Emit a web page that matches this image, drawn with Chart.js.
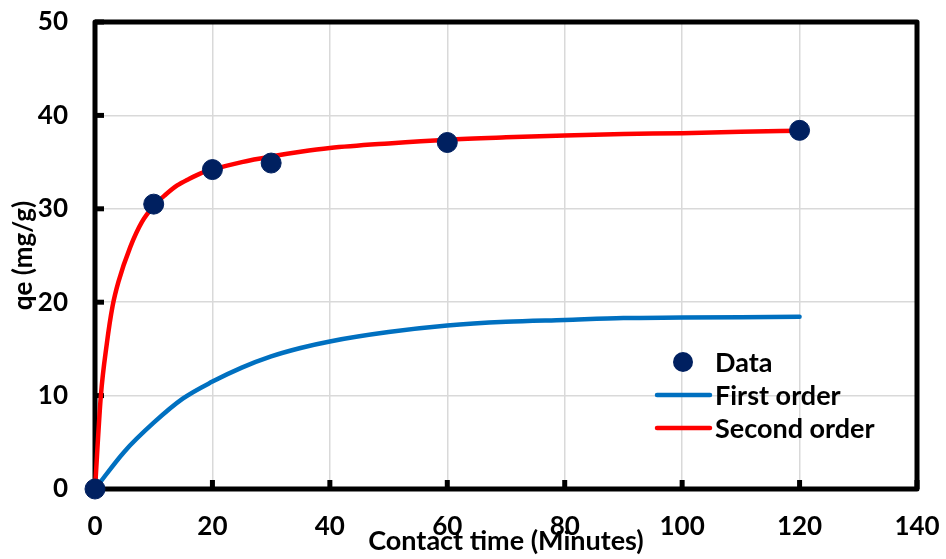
<!DOCTYPE html>
<html>
<head>
<meta charset="utf-8">
<script src="https://cdn.jsdelivr.net/npm/chart.js@4.4.1/dist/chart.umd.min.js"></script>
<style>
  html, body { margin: 0; padding: 0; background: #ffffff; }
  #wrap { width: 946px; height: 559px; }
</style>
</head>
<body>
<div id="wrap"><canvas id="c" width="946" height="559"></canvas></div>
<script>
// ---- data ----
const dataTime = [0, 10, 20, 30, 60, 120];
const dataQe = [0, 30.5, 34.2, 34.9, 37.1, 38.4];

const firstOrderTime = [0, 5, 10, 15, 20, 25, 30, 35, 40, 50, 60, 70, 80, 90, 100, 110, 120];
const firstOrderQe = [0, 4.0, 7.1, 9.7, 11.5, 13.0, 14.2, 15.1, 15.8, 16.8, 17.5, 17.9, 18.1, 18.3, 18.35, 18.4, 18.45];

const secondOrderTime = [0, 1, 2, 3, 4, 6, 8, 10, 12, 14, 16, 18, 20, 25, 30, 35, 40, 50, 60, 70, 80, 90, 100, 110, 120];
const secondOrderQe = [0, 10.0, 15.5, 19.6, 22.2, 25.9, 28.6, 30.3, 31.5, 32.5, 33.2, 33.8, 34.2, 35.0, 35.6, 36.1, 36.5, 37.0, 37.4, 37.65, 37.85, 38.0, 38.1, 38.25, 38.35];

const xTicks = [0, 20, 40, 60, 80, 100, 120, 140];
const yTicks = [0, 10, 20, 30, 40, 50];

const seriesNames = ['Data', 'First order', 'Second order'];
const xTitle = 'Contact time (Minutes)';
const yTitle = 'qe (mg/g)';

// ---- chart ----
const FONT = 'Lato';
Chart.defaults.font.family = FONT;
Chart.defaults.font.weight = 'bold';
Chart.defaults.font.size = 26;
Chart.defaults.color = '#000000';

const toPts = (xs, ys) => xs.map((x, i) => ({ x: x, y: ys[i] }));

// target plot rectangle
const AREA = { left: 95, top: 22, right: 917, bottom: 489 };

const fixArea = {
  id: 'fixArea',
  afterLayout(chart) {
    const a = chart.chartArea;
    a.left = AREA.left; a.top = AREA.top; a.right = AREA.right; a.bottom = AREA.bottom;
    a.width = a.right - a.left; a.height = a.bottom - a.top;
    const x = chart.scales.x, y = chart.scales.y;
    x.left = a.left; x.right = a.right; x.width = a.width; x.top = a.bottom; x.bottom = 559;
    x.height = x.bottom - x.top;
    y.top = a.top; y.bottom = a.bottom; y.height = a.height; y.left = 0; y.right = a.left;
    y.width = a.left;
    x.configure(); y.configure();
  }
};

const frame = {
  id: 'frame',
  beforeDatasetsDraw(chart) {
    const { ctx, chartArea: a, scales } = chart;
    ctx.save();
    ctx.strokeStyle = '#000000';
    ctx.lineWidth = 5;
    ctx.lineJoin = 'round';
    ctx.strokeRect(a.left, a.top, a.right - a.left, a.bottom - a.top);
    ctx.lineCap = 'butt';
    yTicks.forEach(v => {
      const y = scales.y.getPixelForValue(v);
      ctx.beginPath(); ctx.moveTo(a.left, y); ctx.lineTo(a.left + 9, y); ctx.stroke();
    });
    xTicks.forEach(v => {
      const x = scales.x.getPixelForValue(v);
      ctx.beginPath(); ctx.moveTo(x, a.bottom); ctx.lineTo(x, a.bottom - 9); ctx.stroke();
    });
    ctx.restore();
  }
};

const legendInside = {
  id: 'legendInside',
  afterDatasetsDraw(chart) {
    const { ctx } = chart;
    const ds = chart.data.datasets;
    const textX = 715;
    const rows = [362, 395, 428];
    ctx.save();
    ctx.font = 'bold 27px ' + FONT;
    ctx.textBaseline = 'middle';
    ctx.textAlign = 'left';
    ctx.beginPath();
    ctx.arc(683, rows[0], 10, 0, Math.PI * 2);
    ctx.fillStyle = ds[0].backgroundColor;
    ctx.fill();
    [1, 2].forEach(i => {
      ctx.beginPath();
      ctx.strokeStyle = ds[i].borderColor;
      ctx.lineWidth = 4.5;
      ctx.lineCap = 'round';
      ctx.moveTo(657, rows[i]); ctx.lineTo(710, rows[i]);
      ctx.stroke();
    });
    ctx.fillStyle = '#000000';
    ds.forEach((d, i) => ctx.fillText(d.label, textX, rows[i] + 1));
    ctx.restore();
  }
};

new Chart(document.getElementById('c'), {
  type: 'scatter',
  data: {
    datasets: [
      {
        label: seriesNames[0],
        data: toPts(dataTime, dataQe),
        backgroundColor: '#002060',
        borderColor: '#002060',
        pointRadius: 10,
        pointHoverRadius: 10,
        showLine: false,
        clip: false
      },
      {
        label: seriesNames[1],
        data: toPts(firstOrderTime, firstOrderQe),
        borderColor: '#0070C0',
        backgroundColor: '#0070C0',
        borderWidth: 4.5,
        pointRadius: 0,
        showLine: true,
        cubicInterpolationMode: 'monotone',
        borderCapStyle: 'round',
        clip: false
      },
      {
        label: seriesNames[2],
        data: toPts(secondOrderTime, secondOrderQe),
        borderColor: '#FF0000',
        backgroundColor: '#FF0000',
        borderWidth: 4.5,
        pointRadius: 0,
        showLine: true,
        cubicInterpolationMode: 'monotone',
        borderCapStyle: 'round',
        clip: false
      }
    ]
  },
  options: {
    responsive: false,
    animation: false,
    layout: { padding: 0 },
    plugins: {
      legend: { display: false },
      tooltip: { enabled: false }
    },
    scales: {
      x: {
        type: 'linear',
        min: 0, max: 140,
        afterBuildTicks: s => { s.ticks = xTicks.map(v => ({ value: v })); },
        grid: { color: '#d9d9d9', lineWidth: 1.5, drawTicks: false },
        border: { display: false },
        ticks: { padding: 22, maxRotation: 0, autoSkip: false, font: { size: 26, weight: 'bold' } },
        title: { display: true, text: xTitle, padding: { top: 0, bottom: 2 }, font: { size: 27, weight: 'bold' } }
      },
      y: {
        type: 'linear',
        min: 0, max: 50,
        afterBuildTicks: s => { s.ticks = yTicks.map(v => ({ value: v })); },
        grid: { color: '#d9d9d9', lineWidth: 1.5, drawTicks: false },
        border: { display: false },
        ticks: { padding: 27, autoSkip: false, font: { size: 26, weight: 'bold' } },
        title: { display: true, text: yTitle, padding: { top: 8, bottom: 0 }, font: { size: 26, weight: 'bold' } }
      }
    }
  },
  plugins: [fixArea, frame, legendInside]
});
</script>
</body>
</html>
